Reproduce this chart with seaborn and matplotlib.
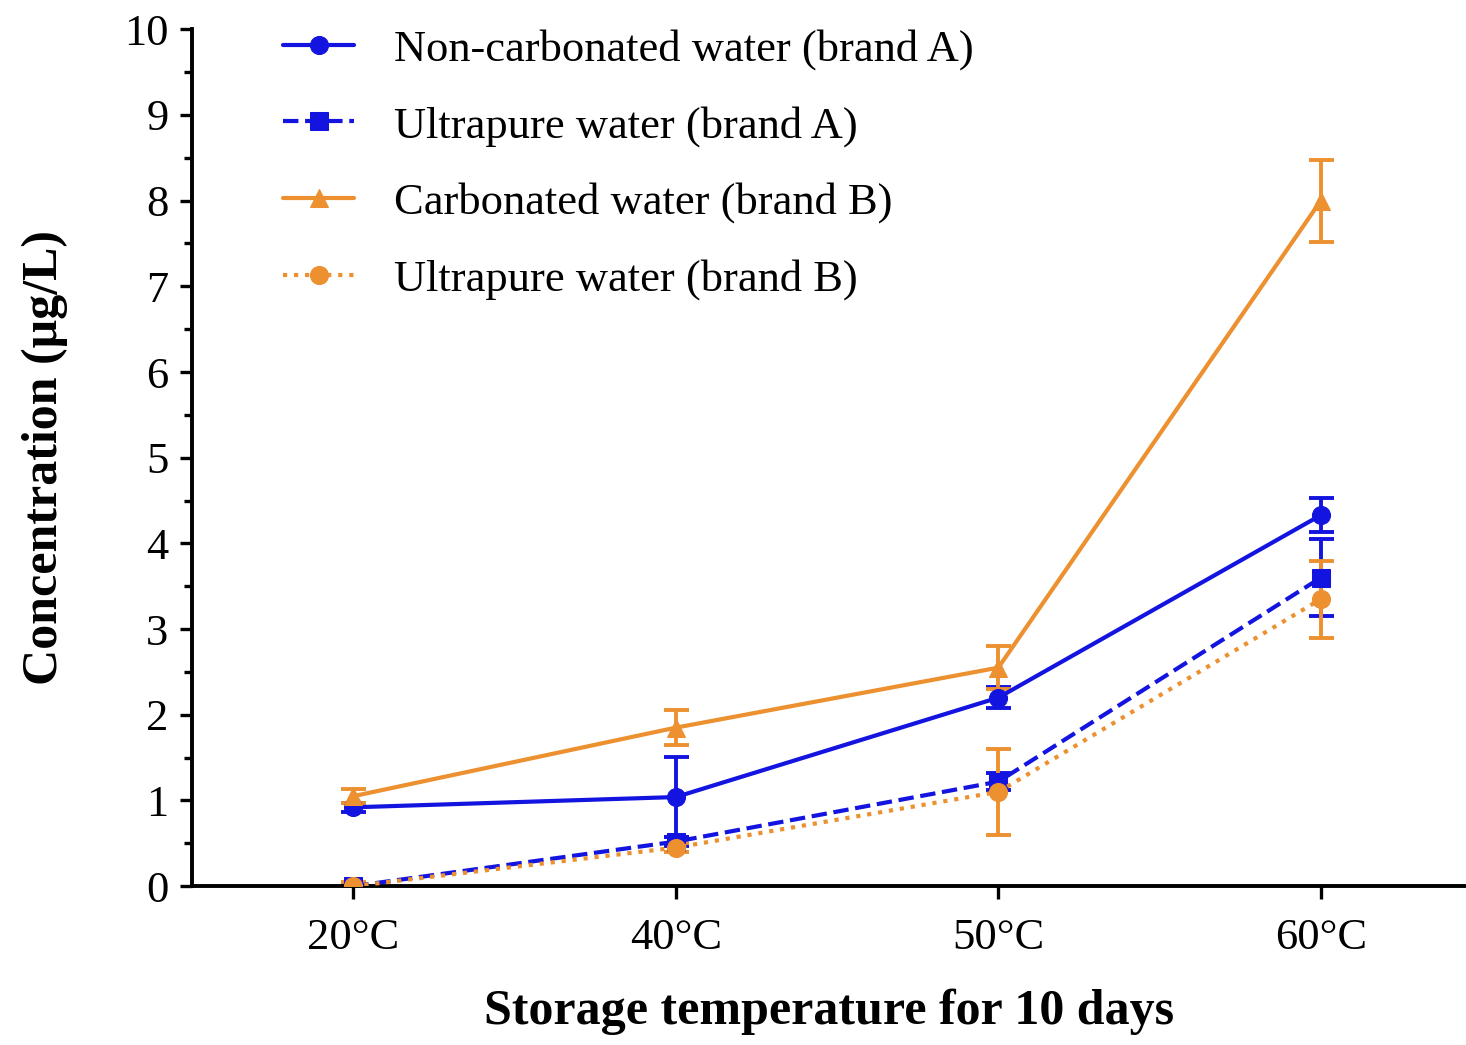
import matplotlib
matplotlib.use("Agg")
import matplotlib.pyplot as plt
import numpy as np
import pandas as pd
import seaborn as sns

# categories and series values
temps = ["20°C", "40°C", "50°C", "60°C"]

non_carb_a = [0.92, 1.04, 2.20, 4.33]
non_carb_a_err = [0.05, 0.47, 0.12, 0.20]

ultra_a = [0.00, 0.52, 1.22, 3.60]
ultra_a_err = [0.03, 0.05, 0.10, 0.45]

carb_b = [1.05, 1.85, 2.55, 8.00]
carb_b_err = [0.08, 0.20, 0.25, 0.48]

ultra_b = [0.00, 0.45, 1.10, 3.35]
ultra_b_err = [0.05, 0.05, 0.50, 0.45]

labels = [
    "Non-carbonated water (brand A)",
    "Ultrapure water (brand A)",
    "Carbonated water (brand B)",
    "Ultrapure water (brand B)",
]

BLUE = "#1414e0"
ORANGE = "#ec9030"

sns.set_style("ticks", {"axes.edgecolor": "black", "text.color": "black",
                        "axes.labelcolor": "black", "xtick.color": "black",
                        "ytick.color": "black"})
plt.rcParams["font.family"] = ["Liberation Serif", "DejaVu Serif"]

series = [
    (labels[0], non_carb_a, non_carb_a_err, BLUE, "o", "-"),
    (labels[1], ultra_a, ultra_a_err, BLUE, "s", "--"),
    (labels[2], carb_b, carb_b_err, ORANGE, "^", "-"),
    (labels[3], ultra_b, ultra_b_err, ORANGE, "o", ":"),
]

fig = plt.figure(figsize=(14.66, 10.45), dpi=100)
ax = fig.add_axes([0.131, 0.152, 0.869, 0.82])

x = np.arange(len(temps))
for name, vals, errs, color, marker, ls in series:
    df = pd.DataFrame({"temp": x, "conc": vals})
    ax.errorbar(x, vals, yerr=errs, fmt="none", ecolor=color,
                elinewidth=2.8, capsize=9, capthick=2.8, zorder=2)
    sns.lineplot(data=df, x="temp", y="conc", ax=ax, color=color,
                 marker=marker, markersize=13, markeredgecolor=color,
                 linestyle=ls, linewidth=3.0, label=name, zorder=3)

ax.set_xlim(-0.5, 3.45)
ax.set_ylim(0, 10)
ax.set_xticks(x)
ax.set_xticklabels(temps)
ax.set_yticks(range(0, 11))
ax.set_yticks(np.arange(0.5, 10, 1), minor=True)

ax.tick_params(axis="both", which="major", direction="out", length=9,
               width=2.4, labelsize=32, pad=8)
ax.tick_params(axis="x", which="major", pad=14)
ax.tick_params(axis="y", which="minor", direction="out", length=6, width=2.4)
for side in ["left", "bottom"]:
    ax.spines[side].set_linewidth(2.8)
sns.despine(ax=ax)

ax.set_xlabel("Storage temperature for 10 days", fontsize=36,
              fontweight="bold", labelpad=22)
ax.set_ylabel("Concentration (μg/L)", fontsize=36, fontweight="bold",
              labelpad=40)

ax.legend(loc="upper left", bbox_to_anchor=(0.04, 1.047), frameon=False,
          fontsize=32, labelspacing=0.8, handlelength=1.6, handletextpad=0.9)

fig.savefig("out.png", dpi=100)
